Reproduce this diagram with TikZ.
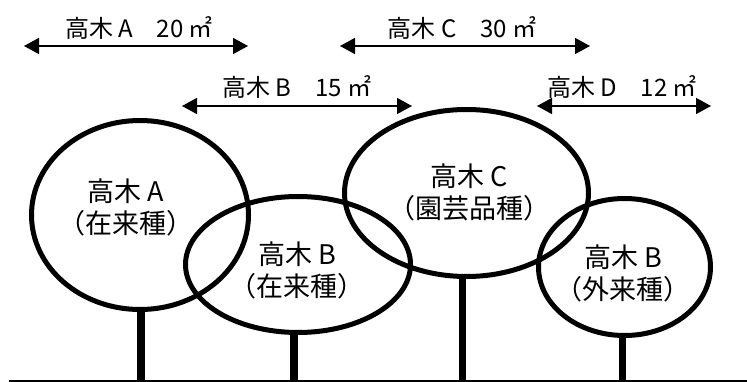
\documentclass[tikz,border=0pt]{standalone}
\usepackage{fontspec}
\setmainfont{Noto Sans CJK JP}
\usetikzlibrary{shapes.geometric,arrows.meta}
\tikzset{
  crown/.style={draw, ellipse, line width=5pt, inner sep=0pt},
  trunk/.style={line width=7.5pt},
  dim/.style={line width=1.5pt, {Triangle[length=15pt,width=16pt]}-{Triangle[length=15pt,width=16pt]}},
  lbl/.style={font=\fontsize{24}{30}\selectfont, inner sep=0pt},
  intxt/.style={font=\fontsize{27}{32}\selectfont, align=center, inner sep=0pt},
}
\begin{document}
\begin{tikzpicture}[x=1pt,y=-1pt]
\useasboundingbox (0,0) rectangle (747,382);
% ground
\coordinate (g0) at (9,381);
\coordinate (g1) at (747,381);
\draw[line width=2pt] (g0) -- (g1);
% crowns
\node[crown, minimum width=217pt, minimum height=189pt] (eA) at (140,215) {};
\node[crown, minimum width=225pt, minimum height=136pt] (eB) at (298,264.5) {};
\node[crown, minimum width=244pt, minimum height=167pt] (eC) at (466.5,193) {};
\node[crown, minimum width=172pt, minimum height=137pt] (eD) at (624.5,267) {};
% trunks
\draw[trunk] ([xshift=1pt]eA.south) -- ([xshift=1pt]eA.south |- g0);
\draw[trunk] ([xshift=-4pt]eB.south) -- ([xshift=-4pt]eB.south |- g0);
\draw[trunk] ([xshift=-4pt]eC.south) -- ([xshift=-4pt]eC.south |- g0);
\draw[trunk] ([xshift=-2pt]eD.south) -- ([xshift=-2pt]eD.south |- g0);
% texts inside
\node[intxt] (tA) at (126,207) {高木 A\\（在来種）};
\node[intxt] (tB) at (297,270) {高木 B\\（在来種）};
\node[intxt] (tC) at (469,192) {高木 C\\（園芸品種）};
\node[intxt] (tD) at (623,273) {高木 B\\（外来種）};
% dimension arrows
\coordinate (aA0) at (24,46);  \coordinate (aA1) at (248,46);
\coordinate (aB0) at (182,106); \coordinate (aB1) at (412,106);
\coordinate (aC0) at (340,46); \coordinate (aC1) at (590,46);
\coordinate (aD0) at (537,106); \coordinate (aD1) at (711,106);
\draw[dim] (aA0) -- (aA1);
\draw[dim] (aB0) -- (aB1);
\draw[dim] (aC0) -- (aC1);
\draw[dim] (aD0) -- (aD1);
\node[lbl] (lA) at (139,28) {高木 A　20 ㎡};
\node[lbl] (lB) at (297,87) {高木 B　15 ㎡};
\node[lbl] (lC) at (462,28) {高木 C　30 ㎡};
\node[lbl] (lD) at (622,87) {高木 D　12 ㎡};
\end{tikzpicture}
\end{document}
